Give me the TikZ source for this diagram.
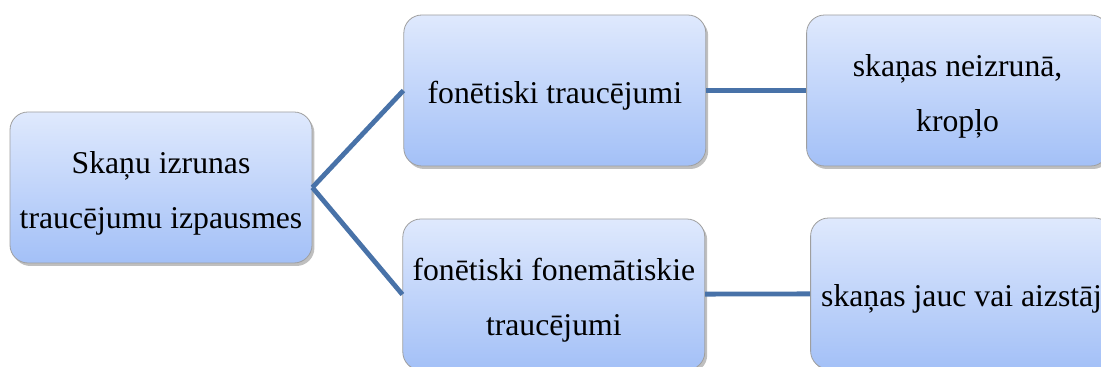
\documentclass[tikz,border=0pt]{standalone}
\usepackage{fontspec}
\setmainfont{Liberation Serif}
\usetikzlibrary{positioning,shadows}

\definecolor{boxtop}{HTML}{DFE9FD}
\definecolor{boxbottom}{HTML}{A3C0F7}
\definecolor{linkblue}{HTML}{4872A8}

\begin{document}
\begin{tikzpicture}[
        x=0.5pt, y=-0.5pt,
        every node/.style={draw=gray!75, rounded corners=9pt, top color=boxtop, bottom color=boxbottom,
            align=center, minimum width=151pt, minimum height=75.5pt, inner sep=2pt,
            font=\fontsize{15.85pt}{27.5pt}\selectfont,
            drop shadow={shadow xshift=1.2pt, shadow yshift=-1.5pt, opacity=0.25, fill=black}},
        oneline/.style={text height=16pt},
        twoline/.style={text height=44pt},
        link/.style={draw=linkblue, line width=2.4pt}
    ]

    \useasboundingbox (0,0) rectangle (1101,367);
    \clip (0,0) rectangle (1101,367);

    % Nodes
    \node (root)[twoline] at (161,187.5) {Skaņu izrunas \\ traucējumu izpausmes};

    \node (phon)[right=45.5pt of root, yshift=48.5pt, oneline] {fonētiski traucējumi};
    \node (phonem)[right=45pt of root, yshift=-53.5pt, twoline] {fonētiski fonemātiskie \\ traucējumi};

    \node (distort)[right=50pt of phon, twoline] {skaņas neizrunā, \\ kropļo};
    \node (swap)[right=52.5pt of phonem, yshift=0.5pt, oneline] {skaņas jauc vai aizstāj};

    % Edges
    \draw[link] (root.east) -- (phon.west);
    \draw[link] (root.east) -- (phonem.west);
    \draw[link] (phon) -- (distort);
    \draw[link] (phonem) -- (swap);

\end{tikzpicture}
\end{document}
